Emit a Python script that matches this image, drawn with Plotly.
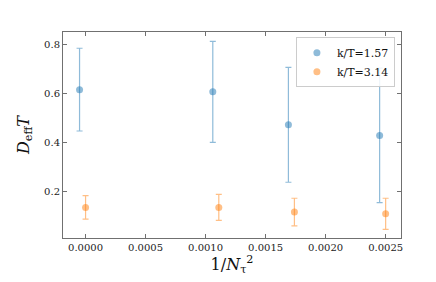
import plotly.graph_objects as go

# data
x_blue = [-0.00005, 0.00106, 0.00169, 0.00245]
y_blue = [0.615, 0.606, 0.472, 0.429]
err_blue = [0.168, 0.205, 0.233, 0.273]

x_orange = [0.0, 0.00111, 0.00174, 0.0025]
y_orange = [0.137, 0.137, 0.118, 0.111]
err_orange = [0.048, 0.053, 0.056, 0.063]

labels = ["k/T=1.57", "k/T=3.14"]
x_ticks = [0.0, 0.0005, 0.0010, 0.0015, 0.0020, 0.0025]
x_ticktext = ["0.0000", "0.0005", "0.0010", "0.0015", "0.0020", "0.0025"]
y_ticks = [0.2, 0.4, 0.6, 0.8]

blue = "rgba(31,119,180,0.5)"
orange = "rgba(255,127,14,0.5)"
font = "DejaVu Serif, Liberation Serif, serif"

fig = go.Figure()
for xs, ys, es, c, name in [(x_blue, y_blue, err_blue, blue, labels[0]),
                            (x_orange, y_orange, err_orange, orange, labels[1])]:
    fig.add_trace(go.Scatter(
        x=xs, y=ys, mode="markers", name=name,
        marker=dict(color=c, size=7, line=dict(width=0)),
        error_y=dict(type="data", array=es, visible=True, color=c, thickness=1.2, width=3),
    ))

axis_common = dict(
    showgrid=False, zeroline=False, showline=True, linecolor="#707070", linewidth=1,
    mirror="allticks", ticks="inside", ticklen=4, tickcolor="#707070",
    tickfont=dict(family=font, size=10, color="#222"),
)
fig.update_xaxes(range=[-0.000188, 0.002628], tickvals=x_ticks, ticktext=x_ticktext,
                 title=dict(text="1/<i>N</i><sub>τ</sub><sup>2</sup>", font=dict(family=font, size=16, color="#111"), standoff=6),
                 **axis_common)
fig.update_yaxes(range=[0.0127, 0.849], tickvals=y_ticks, ticktext=["0.2", "0.4", "0.6", "0.8"],
                 title=dict(text="<i>D</i><sub>eff</sub><i>T</i>", font=dict(family=font, size=16, color="#111"), standoff=10),
                 **axis_common)
# page body has an 8px default margin, so the figure is shrunk by that amount
fig.update_layout(
    width=428, height=274,
    margin=dict(l=55, r=35, t=24, b=38),
    plot_bgcolor="white", paper_bgcolor="white",
    showlegend=True,
    legend=dict(x=0.982, y=0.975, xanchor="right", yanchor="top",
                bgcolor="rgba(255,255,255,0.85)", bordercolor="#cccccc", borderwidth=1,
                font=dict(family=font, size=11, color="#111"),
                itemwidth=30, tracegroupgap=0),
)
fig.write_html("out.html")
